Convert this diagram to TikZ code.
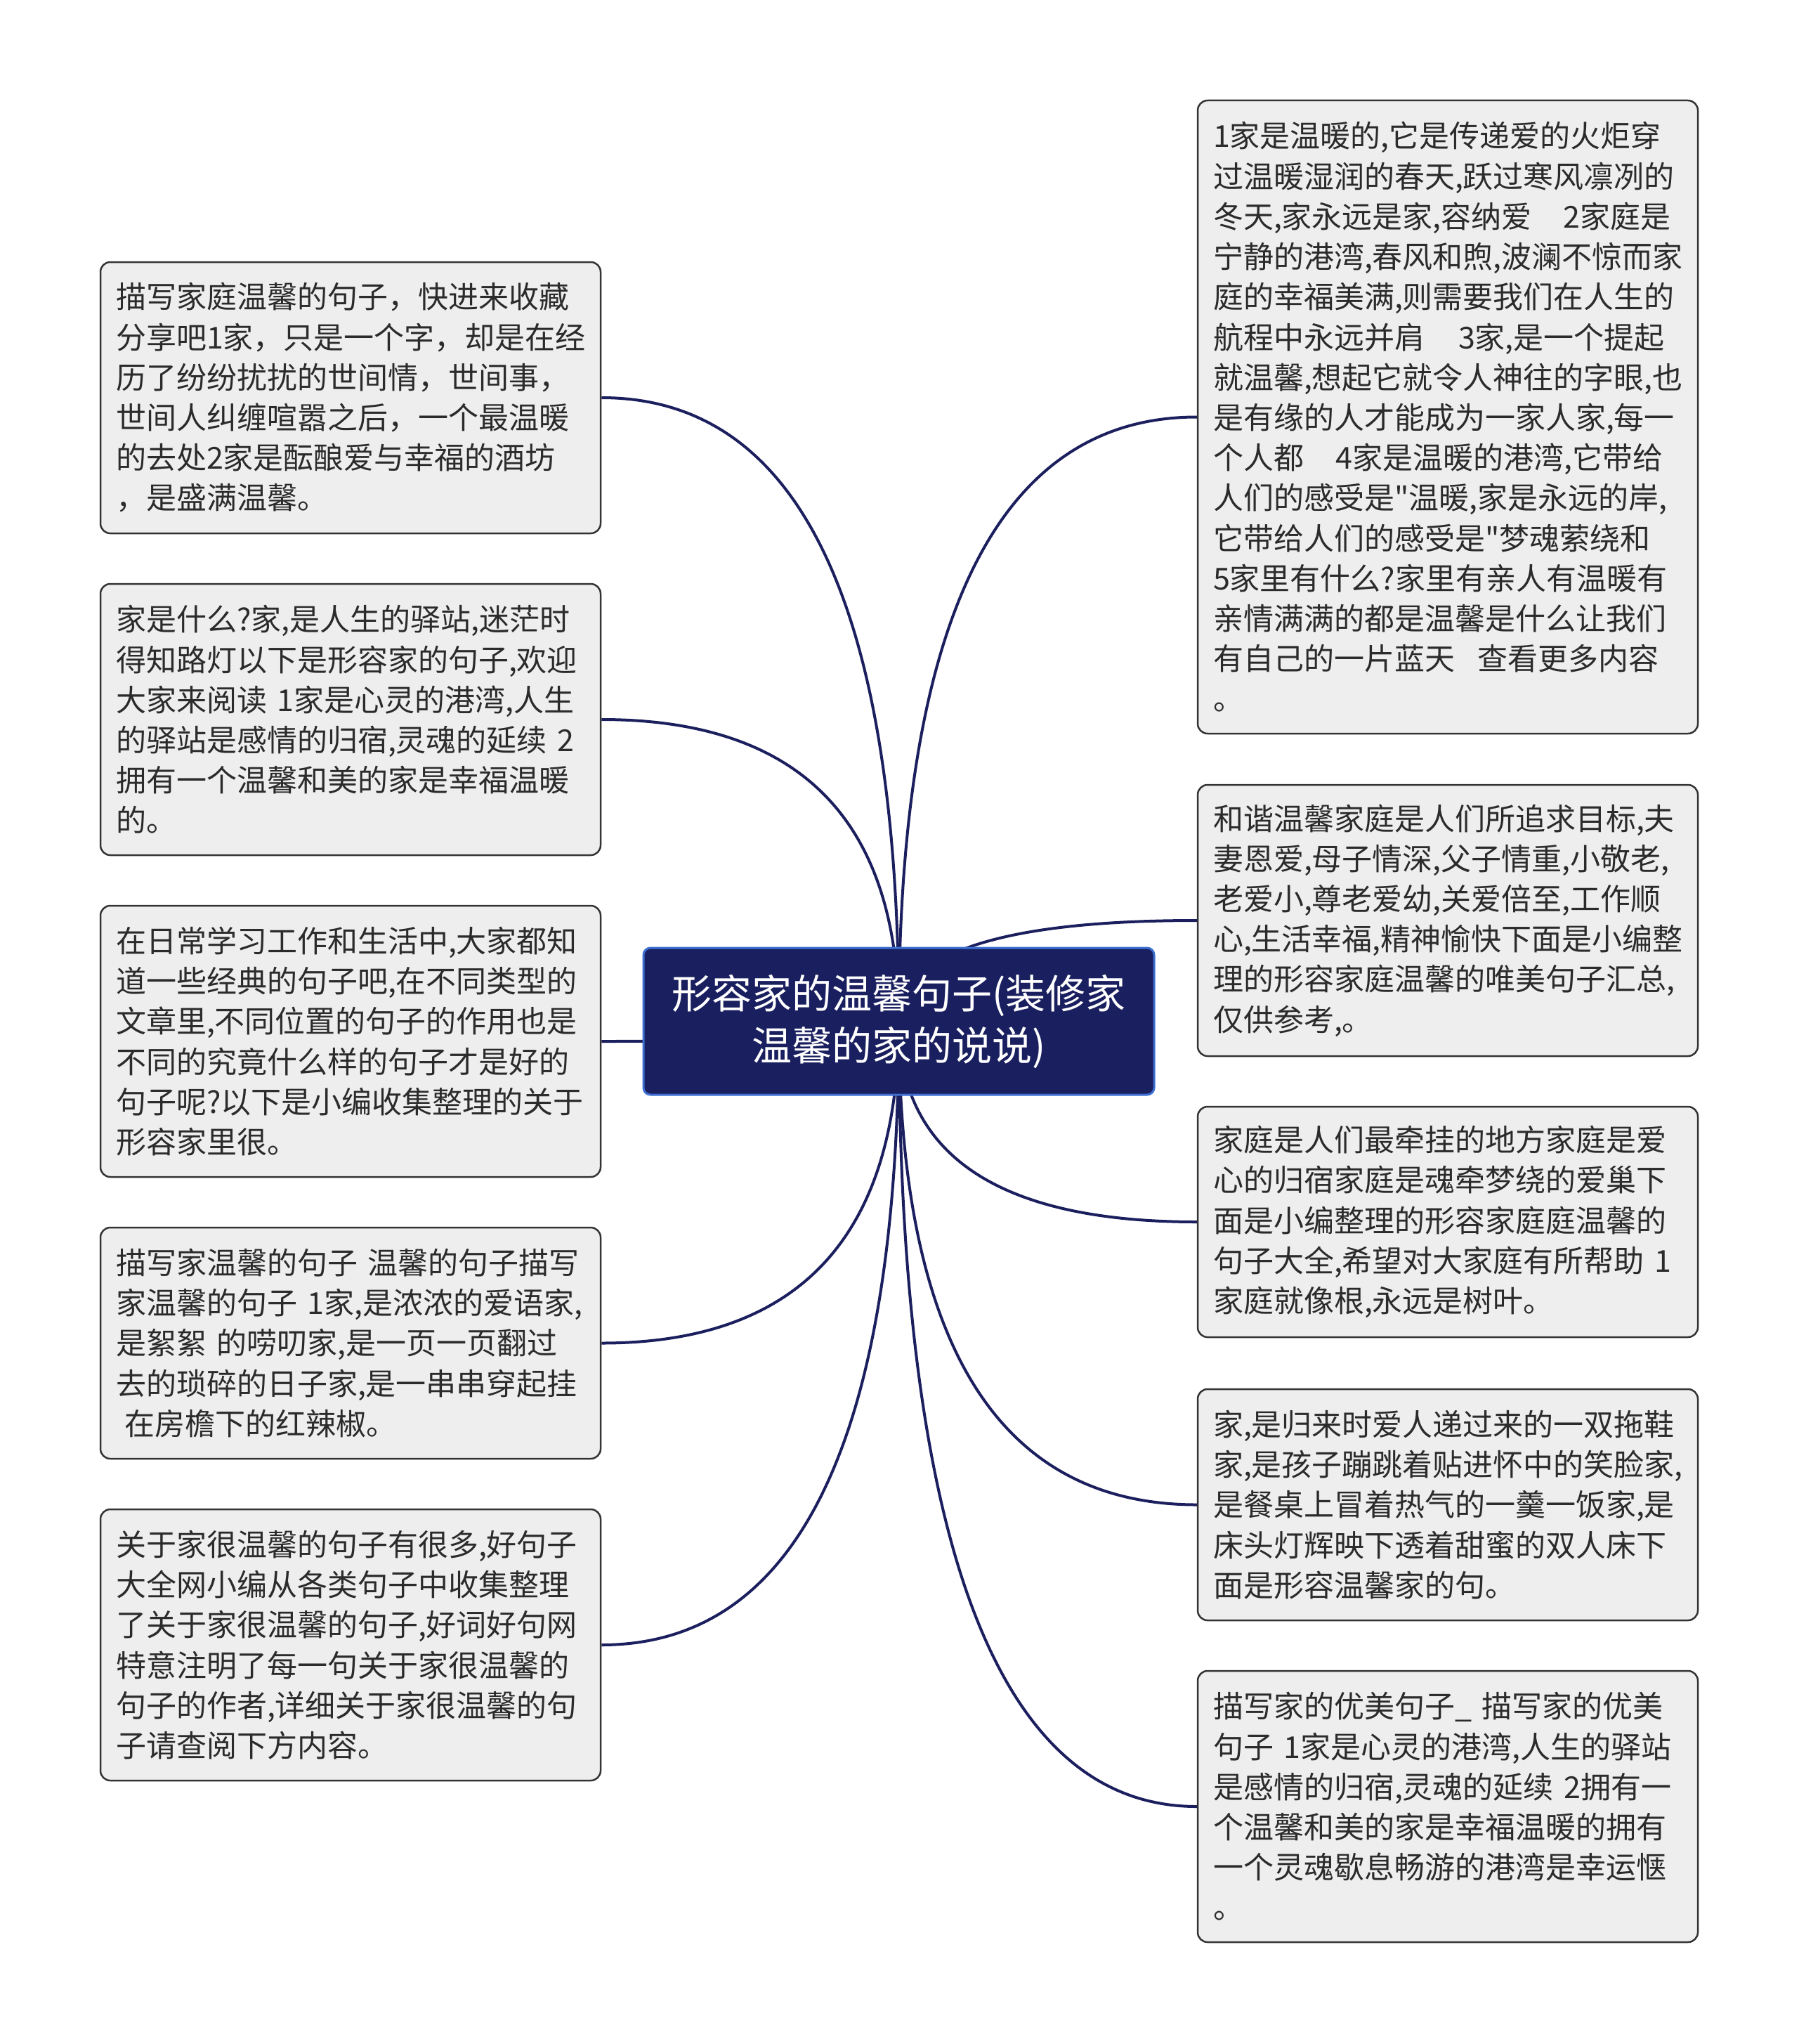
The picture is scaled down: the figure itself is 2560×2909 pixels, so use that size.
\documentclass[tikz,border=0pt]{standalone}
\usepackage{fontspec}
\setmainfont{Noto Sans CJK SC}[Ligatures=TeXOff]
\usetikzlibrary{calc,backgrounds}
\definecolor{navyline}{HTML}{1B1F5E}
\definecolor{navyfill}{HTML}{1A1F5F}
\definecolor{navyborder}{HTML}{3D6FD1}
\definecolor{boxfill}{HTML}{EEEEEE}
\definecolor{boxline}{HTML}{333333}
\definecolor{txt}{HTML}{2B2B2B}
\newcommand\sq{\symbol{34}}
\begin{document}
\begin{tikzpicture}[x=1pt,y=-1pt,
  leaf/.style={draw=boxline, line width=2.5pt, fill=boxfill, rounded corners=14pt,
    text=txt, font=\fontsize{43}{57.2}\selectfont, align=left, text width=668pt,
    inner xsep=22pt, inner ysep=0pt, minimum width=712pt, anchor=center},
  rootbox/.style={draw=navyborder, line width=3pt, fill=navyfill, rounded corners=10pt,
    text=white, font=\fontsize{57}{74}\selectfont, align=center,
    minimum width=727pt, minimum height=209pt, inner sep=0pt},
  conn/.style={draw=navyline, line width=4pt}]
\useasboundingbox (0,0) rectangle (2560,2909);

\node[rootbox] (c) at (1279.5,1453.5) {形容家的温馨句子(装修家\\温馨的家的说说)};

\node[leaf, minimum height=386pt] (L1) at (499,566) {描写家庭温馨的句子，快进来收藏\\
分享吧1家，只是一个字，却是在经\\
历了纷纷扰扰的世间情，世间事，\\
世间人纠缠喧嚣之后，一个最温暖\\
的去处2家是酝酿爱与幸福的酒坊\\
，是盛满温馨。};

\node[leaf, minimum height=386pt] (L2) at (499,1024) {家是什么?家,是人生的驿站,迷茫时\\
得知路灯以下是形容家的句子,欢迎\\
大家来阅读~1家是心灵的港湾,人生\\
的驿站是感情的归宿,灵魂的延续~2\\
拥有一个温馨和美的家是幸福温暖\\
的。};

\node[leaf, minimum height=386pt] (L3) at (499,1482) {在日常学习工作和生活中,大家都知\\
道一些经典的句子吧,在不同类型的\\
文章里,不同位置的句子的作用也是\\
不同的究竟什么样的句子才是好的\\
句子呢?以下是小编收集整理的关于\\
形容家里很。};

\node[leaf, minimum height=329pt] (L4) at (499,1911.5) {描写家温馨的句子~温馨的句子描写\\
家温馨的句子~1家,是浓浓的爱语家,\\
是絮絮~的唠叨家,是一页一页翻过\\
去的琐碎的日子家,是一串串穿起挂\\
\hspace*{12pt}在房檐下的红辣椒。};

\node[leaf, minimum height=386pt] (L5) at (499,2341) {关于家很温馨的句子有很多,好句子\\
大全网小编从各类句子中收集整理\\
了关于家很温馨的句子,好词好句网\\
特意注明了每一句关于家很温馨的\\
句子的作者,详细关于家很温馨的句\\
子请查阅下方内容。};

\node[leaf, minimum height=901pt] (R1) at (2061,593.5) {1家是温暖的,它是传递爱的火炬穿\\
过温暖湿润的春天,跃过寒风凛冽的\\
冬天,家永远是家,容纳爱\hspace{45pt}2家庭是\\
宁静的港湾,春风和煦,波澜不惊而家\\
庭的幸福美满,则需要我们在人生的\\
航程中永远并肩\hspace{48pt}3家,是一个提起\\
就温馨,想起它就令人神往的字眼,也\\
是有缘的人才能成为一家人家,每一\\
个人都\hspace{46pt}4家是温暖的港湾,它带给\\
人们的感受是\sq 温暖,家是永远的岸,\\
它带给人们的感受是\sq 梦魂萦绕和\\
5家里有什么?家里有亲人有温暖有\\
亲情满满的都是温馨是什么让我们\\
有自己的一片蓝天\hspace{32pt}查看更多内容\\
。};

\node[leaf, minimum height=386pt] (R2) at (2061,1310) {和谐温馨家庭是人们所追求目标,夫\\
妻恩爱,母子情深,父子情重,小敬老,\\
老爱小,尊老爱幼,关爱倍至,工作顺\\
心,生活幸福,精神愉快下面是小编整\\
理的形容家庭温馨的唯美句子汇总,\\
仅供参考,。};

\node[leaf, minimum height=328pt] (R3) at (2061,1739) {家庭是人们最牵挂的地方家庭是爱\\
心的归宿家庭是魂牵梦绕的爱巢下\\
面是小编整理的形容家庭庭温馨的\\
句子大全,希望对大家庭有所帮助~1\\
家庭就像根,永远是树叶。};

\node[leaf, minimum height=329pt] (R4) at (2061,2141.5) {家,是归来时爱人递过来的一双拖鞋\\
家,是孩子蹦跳着贴进怀中的笑脸家,\\
是餐桌上冒着热气的一羹一饭家,是\\
床头灯辉映下透着甜蜜的双人床下\\
面是形容温馨家的句。};

\node[leaf, minimum height=386pt] (R5) at (2061,2571) {描写家的优美句子\_~描写家的优美\\
句子~1家是心灵的港湾,人生的驿站\\
是感情的归宿,灵魂的延续~2拥有一\\
个温馨和美的家是幸福温暖的拥有\\
一个灵魂歇息畅游的港湾是幸运惬\\
。};

\begin{pgfonlayer}{background}
  \fill[white] (0,0) rectangle (2560,2909);
  \foreach \n/\s in {L1/east,L2/east,L3/east,L4/east,L5/east,R1/west,R2/west,R3/west,R4/west,R5/west}{
    \draw[conn] (c.center) .. controls ($(c.center)!0.6667!(c.center |- \n.\s)$) and ($(\n.\s)!0.6667!(c.center |- \n.\s)$) .. (\n.\s);
  }
\end{pgfonlayer}
\end{tikzpicture}
\end{document}
